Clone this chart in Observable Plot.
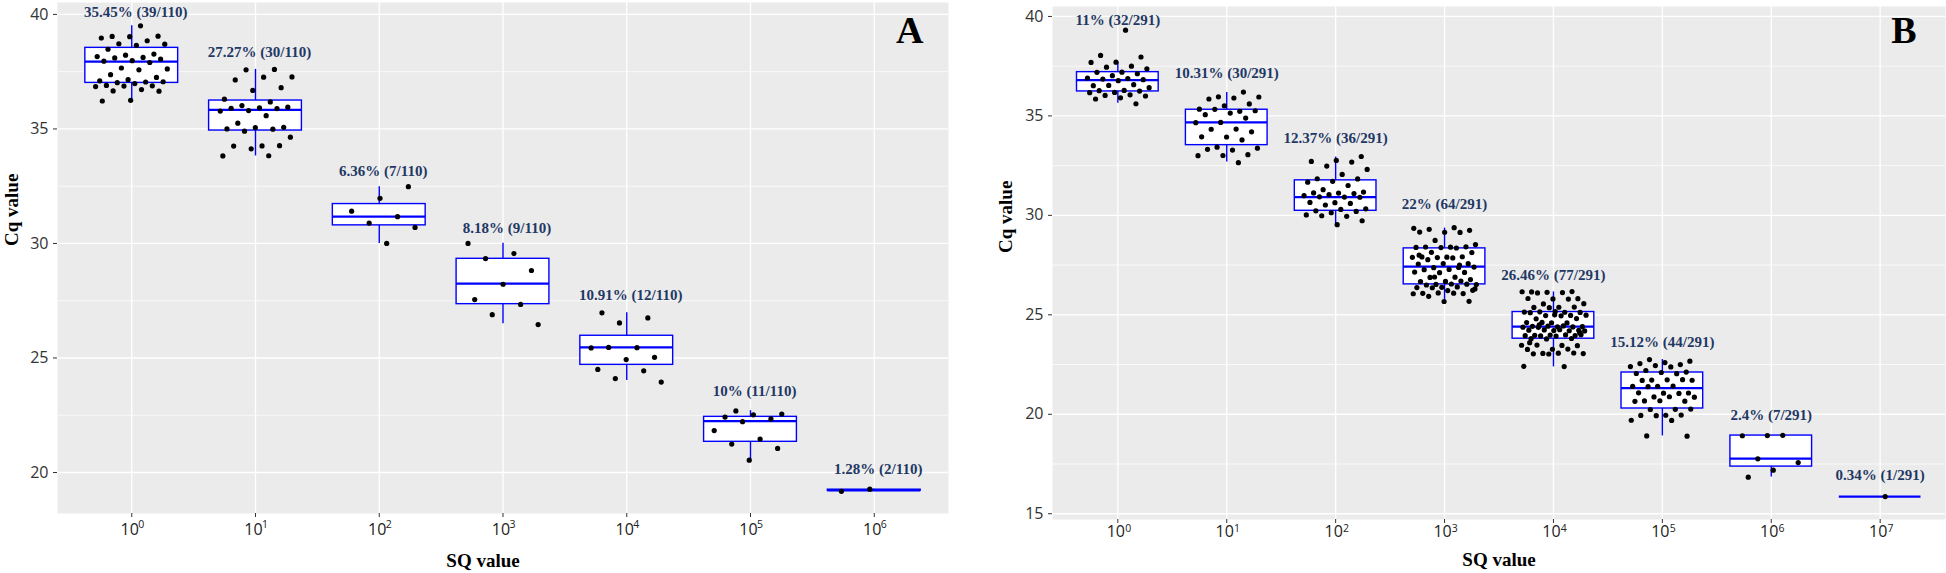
<!DOCTYPE html>
<html><head><meta charset="utf-8">
<script src="https://cdn.jsdelivr.net/npm/d3@7"></script>
<script src="https://cdn.jsdelivr.net/npm/@observablehq/plot@0.6"></script>
<style>
html,body{margin:0;padding:0;background:#fff;}
#wrap{position:relative;width:1946px;height:573px;overflow:hidden;}
#wrap > div{position:absolute;top:0;}
</style></head><body>
<div id="wrap"><div id="pa" style="left:0px"></div><div id="pb" style="left:970px"></div></div>
<script>
// ---------- Panel A data ----------
const expA = [0, 1, 2, 3, 4, 5, 6];
const labelsA = ["35.45% (39/110)", "27.27% (30/110)", "6.36% (7/110)", "8.18% (9/110)", "10.91% (12/110)", "10% (11/110)", "1.28% (2/110)"];
const labelYA = [39.87, 38.12, 32.93, 30.44, 27.54, 23.33, 19.94];
const loA  = [36.28, 33.82, 30.00, 26.49, 24.02, 20.57, 19.18];
const q1A  = [37.01, 34.93, 30.79, 27.35, 24.70, 21.34, 19.20];
const medA = [37.94, 35.83, 31.17, 28.25, 25.46, 22.24, 19.22];
const q3A  = [38.54, 36.24, 31.72, 29.33, 25.97, 22.43, 19.25];
const hiA  = [39.50, 37.60, 32.48, 30.01, 26.97, 22.70, 19.27];
const ptsA0 = [39.5, 39.04, 39.05, 39.03, 38.97, 38.85, 38.72, 38.7, 38.65, 38.48, 38.27, 38.22, 38.16, 38.12, 38.1, 38.05, 37.98, 37.96, 37.9, 37.66, 37.62, 37.58, 37.37, 37.25, 37.15, 37.1, 37.05, 37.02, 37.06, 36.98, 36.9, 36.88, 36.87, 36.85, 36.72, 36.66, 36.65, 36.25, 36.22];
const ptsA1 = [37.6, 37.58, 37.27, 37.26, 37.14, 36.8, 36.68, 36.3, 36.18, 36.02, 35.95, 35.92, 35.9, 35.89, 35.8, 35.78, 35.58, 35.25, 35.07, 35.06, 35.0, 34.99, 34.9, 34.64, 34.26, 34.25, 34.27, 34.13, 33.82, 33.83];
const ptsA2 = [32.48, 31.97, 31.41, 31.17, 30.89, 30.7, 30.0];
const ptsA3 = [30.0, 29.56, 29.34, 28.82, 28.22, 27.55, 27.34, 26.89, 26.46];
const ptsA4 = [26.97, 26.75, 26.53, 25.44, 25.45, 25.46, 25.03, 24.93, 24.5, 24.44, 24.1, 23.95];
const ptsA5 = [22.69, 22.55, 22.52, 22.42, 22.34, 22.22, 21.83, 21.46, 21.24, 21.05, 20.54];
const ptsA6 = [19.27, 19.18];

// ---------- Panel B data ----------
const expB = [0, 1, 2, 3, 4, 5, 6, 7];
const labelsB = ["11% (32/291)", "10.31% (30/291)", "12.37% (36/291)", "22% (64/291)", "26.46% (77/291)", "15.12% (44/291)", "2.4% (7/291)", "0.34% (1/291)"];
const labelYB = [39.55, 36.9, 33.63, 30.34, 26.73, 23.38, 19.7, 16.68];
const loB  = [35.63, 32.68, 29.55, 25.61, 22.38, 18.91, 16.85, 15.86];
const q1B  = [36.23, 33.53, 30.23, 26.53, 23.80, 20.29, 17.37, 15.86];
const medB = [36.80, 34.67, 30.92, 27.42, 24.41, 21.31, 17.77, 15.86];
const q3B  = [37.20, 35.31, 31.76, 28.34, 25.14, 22.10, 18.93, 15.86];
const hiB  = [37.70, 36.18, 32.93, 29.36, 26.15, 22.75, 18.93, 15.86];
const ptsB0 = [39.31, 38.04, 37.96, 37.7, 37.69, 37.5, 37.45, 37.37, 37.2, 37.19, 37.12, 37.02, 36.9, 36.88, 36.85, 36.82, 36.77, 36.52, 36.57, 36.53, 36.42, 36.28, 36.27, 36.25, 36.18, 36.17, 36.06, 36.03, 36.0, 35.91, 35.85, 35.61];
const ptsB1 = [36.2, 35.96, 35.95, 35.9, 35.85, 35.6, 35.51, 35.34, 35.23, 35.33, 35.26, 35.14, 35.06, 34.89, 34.67, 34.66, 34.34, 34.33, 34.2, 33.94, 33.95, 33.79, 33.43, 33.38, 33.28, 33.32, 33.05, 33.01, 33.0, 32.65];
const ptsB2 = [32.96, 32.76, 32.71, 32.68, 32.48, 32.31, 32.06, 31.84, 31.83, 31.71, 31.67, 31.5, 31.29, 31.17, 31.12, 31.13, 31.1, 31.04, 30.99, 30.92, 30.93, 30.91, 30.64, 30.65, 30.6, 30.52, 30.33, 30.3, 30.23, 30.2, 30.13, 30.02, 29.95, 29.98, 29.73, 29.53];
const ptsB3 = [29.35, 29.38, 29.3, 29.25, 29.15, 29.16, 29.14, 28.74, 28.53, 28.4, 28.41, 28.42, 28.38, 28.39, 28.36, 28.14, 28.13, 27.9, 27.91, 27.92, 27.88, 27.89, 27.86, 27.77, 27.57, 27.58, 27.55, 27.38, 27.37, 27.4, 27.28, 27.27, 27.13, 27.12, 27.15, 26.89, 26.88, 26.77, 26.68, 26.67, 26.7, 26.53, 26.52, 26.55, 26.5, 26.54, 26.38, 26.37, 26.4, 26.36, 26.23, 26.22, 26.08, 26.07, 26.1, 26.06, 26.09, 25.93, 25.68, 25.67, 28.0, 27.5, 26.9, 26.3];
const ptsB4 = [26.15, 26.17, 26.13, 26.16, 26.12, 26.1, 25.81, 25.8, 25.82, 25.79, 25.55, 25.56, 25.38, 25.37, 25.39, 25.36, 25.14, 25.13, 25.15, 25.12, 25.16, 25.11, 24.97, 24.96, 24.98, 24.95, 24.8, 24.81, 24.6, 24.61, 24.59, 24.62, 24.41, 24.4, 24.42, 24.39, 24.43, 24.38, 24.44, 24.37, 24.22, 24.21, 24.23, 24.2, 24.24, 24.19, 24.25, 23.97, 23.96, 23.98, 23.95, 23.99, 23.94, 24.0, 23.93, 23.8, 23.81, 23.79, 23.47, 23.46, 23.48, 23.45, 23.27, 23.26, 23.28, 23.06, 23.05, 23.07, 23.04, 23.08, 23.03, 22.41, 22.4, 24.5, 24.1, 25.0, 23.6];
const ptsB5 = [22.75, 22.67, 22.6, 22.55, 22.5, 22.45, 22.4, 22.38, 22.2, 22.12, 22.1, 22.05, 22.04, 21.72, 21.71, 21.73, 21.7, 21.74, 21.41, 21.4, 21.42, 21.39, 21.07, 21.06, 21.08, 21.05, 20.87, 20.86, 20.88, 20.67, 20.66, 20.68, 20.65, 20.25, 20.24, 20.26, 19.95, 19.94, 19.96, 19.93, 19.7, 19.69, 18.91, 18.9];
const ptsB6 = [18.93, 18.92, 18.94, 17.76, 17.57, 17.19, 16.84];
const ptsB7 = [15.86];

// deterministic jitter (horizontal spread only, ±0.3 of category step)
const jit = (g, k) => ((((k + 1) * 0.6180339887 + g * 0.137) % 1) - 0.5) * 0.6;

function panel(c) {
  const n = c.exps.length;
  const idx = c.exps.map((_, i) => i);
  const boxes = idx.map(i => ({i, lo: c.lo[i], q1: c.q1[i], med: c.med[i], q3: c.q3[i], hi: c.hi[i]}));
  const dots = c.pts.flatMap((arr, g) => arr.map((v, k) => ({i: g, v, j: jit(g, k)})));
  const labs = idx.map(i => ({i, t: c.labels[i], y: c.labelY[i]}));
  const serif = "Liberation Serif, Times New Roman, serif";
  return Plot.plot({
    width: c.width, height: 573,
    marginLeft: c.mL, marginRight: c.mR, marginTop: c.mT, marginBottom: c.mB,
    style: {fontFamily: "Open Sans, sans-serif", fontSize: "16px", color: "#222", background: "white", overflow: "visible"},
    x: {type: "linear", domain: [-0.6, n - 0.4]},
    y: {type: "linear", domain: c.yDomain},
    marks: [
      Plot.frame({fill: "#ebebeb"}),
      Plot.gridY({ticks: c.yMinor, stroke: "white", strokeOpacity: 1, strokeWidth: 0.7}),
      Plot.gridY({ticks: c.yMajor, stroke: "white", strokeOpacity: 1, strokeWidth: 1.3}),
      Plot.gridX({ticks: idx, stroke: "white", strokeOpacity: 1, strokeWidth: 1.3}),
      Plot.axisY({ticks: c.yMajor, tickSize: 4, tickPadding: 5, fontSize: 16, label: null, color: "#333"}),
      Plot.axisX({ticks: idx, tickSize: 4, tickFormat: () => "", label: null, color: "#333"}),
      Plot.ruleX(boxes, {x: "i", y1: "q3", y2: "hi", stroke: "blue", strokeWidth: 1.4}),
      Plot.ruleX(boxes, {x: "i", y1: "lo", y2: "q1", stroke: "blue", strokeWidth: 1.4}),
      Plot.rect(boxes, {x1: d => d.i - 0.375, x2: d => d.i + 0.375, y1: "q1", y2: "q3", fill: "white", stroke: "blue", strokeWidth: 1.4}),
      Plot.ruleY(boxes, {y: "med", x1: d => d.i - 0.375, x2: d => d.i + 0.375, stroke: "blue", strokeWidth: 2.2}),
      Plot.dot(dots, {x: d => d.i + d.j, y: "v", r: 2.6, fill: "black"}),
      Plot.text(labs, {x: "i", y: "y", text: "t", fill: "#1f3864", fontFamily: serif, fontWeight: "bold", fontSize: 15, lineAnchor: "middle", dx: c.labelDx, dy: -4.8}),
      Plot.text(c.exps, {x: (d, i) => i, text: () => "10", frameAnchor: "bottom", lineAnchor: "middle", dx: -2, dy: c.tickDy, fontSize: 16, fill: "#222"}),
      Plot.text(c.exps, {x: (d, i) => i, text: d => String(d), frameAnchor: "bottom", lineAnchor: "middle", textAnchor: "start", dx: c.supDx, dy: c.supDy, fontSize: 10.5, fill: "#222"}),
      Plot.text([c.letter], {text: d => d, frameAnchor: "top-right", textAnchor: "end", lineAnchor: "top", dx: c.letterDx, dy: c.letterDy, fontSize: 38, fontWeight: "bold", fontFamily: serif, fill: "black"}),
      Plot.text(["SQ value"], {text: d => d, frameAnchor: "bottom", lineAnchor: "middle", dx: c.xtDx, dy: c.xtDy, fontSize: 19, fontWeight: "bold", fontFamily: serif, fill: "black"}),
      Plot.text(["Cq value"], {text: d => d, frameAnchor: "left", lineAnchor: "middle", rotate: -90, dx: c.ytDx, dy: c.ytDy, fontSize: 19, fontWeight: "bold", fontFamily: serif, fill: "black"})
    ]
  });
}

document.getElementById("pa").append(panel({
  exps: expA, labels: labelsA, labelY: labelYA,
  lo: loA, q1: q1A, med: medA, q3: q3A, hi: hiA,
  pts: [ptsA0, ptsA1, ptsA2, ptsA3, ptsA4, ptsA5, ptsA6],
  width: 960, mL: 57, mR: 12, mT: 2, mB: 60,
  yDomain: [18.21, 40.52], yMajor: [20, 25, 30, 35, 40], yMinor: [22.5, 27.5, 32.5, 37.5],
  labelDx: 4, tickDy: 15.9, supDx: 6.6, supDy: 11.1,
  letter: "A", letterDx: -25, letterDy: 14,
  xtDx: -20, xtDy: 47, ytDx: -46, ytDy: -12
}));

document.getElementById("pb").append(panel({
  exps: expB, labels: labelsB, labelY: labelYB,
  lo: loB, q1: q1B, med: medB, q3: q3B, hi: hiB,
  pts: [ptsB0, ptsB1, ptsB2, ptsB3, ptsB4, ptsB5, ptsB6, ptsB7],
  width: 976, mL: 82, mR: 1, mT: 6, mB: 54,
  yDomain: [14.71, 40.5], yMajor: [15, 20, 25, 30, 35, 40], yMinor: [17.5, 22.5, 27.5, 32.5, 37.5],
  labelDx: 0, tickDy: 12.3, supDx: 7.3, supDy: 9,
  letter: "B", letterDx: -29, letterDy: 10,
  xtDx: 0, xtDy: 40, ytDx: -47, ytDy: -10
}));
</script></body></html>
